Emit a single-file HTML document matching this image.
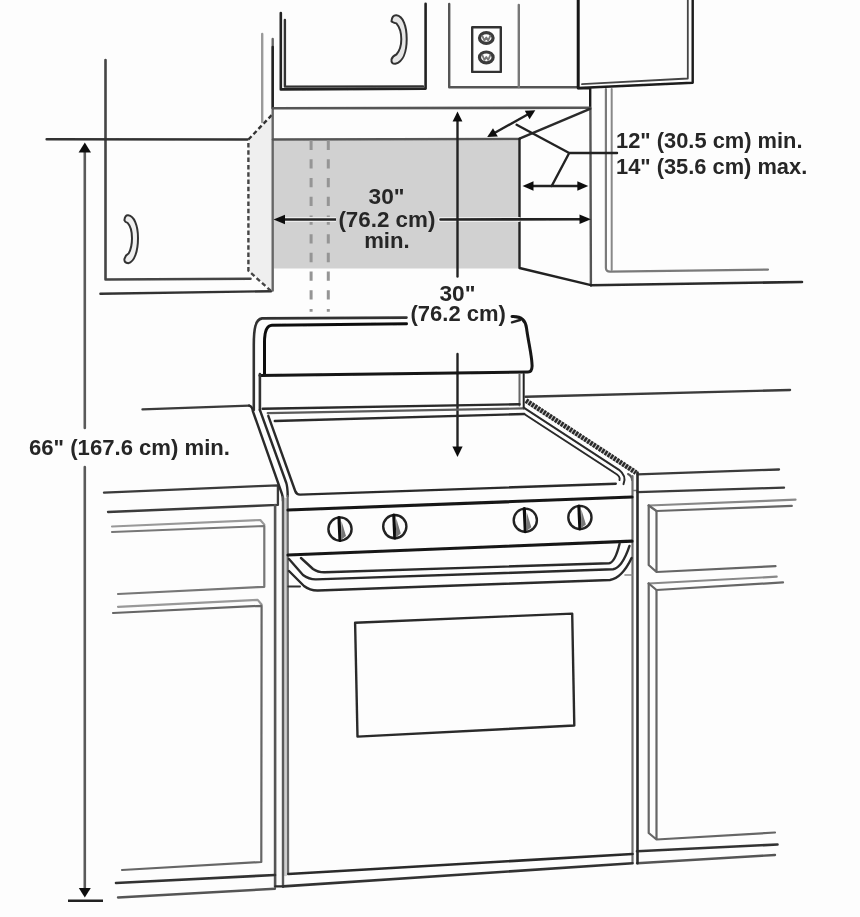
<!DOCTYPE html>
<html><head><meta charset="utf-8">
<style>
html,body{margin:0;padding:0;background:#fdfdfd;}
svg{display:block;}
text{font-family:"Liberation Sans",sans-serif;font-weight:bold;fill:#282828;}
</style></head>
<body>
<svg width="860" height="917" viewBox="0 0 860 917">
<defs><filter id="bl" x="-5%" y="-5%" width="110%" height="110%"><feGaussianBlur stdDeviation="0.6"/></filter></defs>
<g filter="url(#bl)">
<g fill="none" stroke="#2b2b2b" stroke-width="2.4" stroke-linecap="round" stroke-linejoin="round">

<!-- ===== gray clearance region & side panel ===== -->
<rect x="273.5" y="140.5" width="246" height="128" fill="#d1d1d1" stroke="none"/>
<polygon points="248.4,139.5 272.8,114 272.8,290.5 248.4,270.7" fill="#efefef" stroke="none"/>

<!-- left wall cabinet -->
<path d="M105.5,60 L105.5,279.5 L250.5,278.8" stroke="#444" stroke-width="2.6"/>
<path d="M46.6,139.2 L247.5,139.5" stroke="#333"/>
<path d="M100.4,293.8 L271,291.2" stroke="#333"/>
<path d="M248.4,139.5 L272.8,114" stroke="#333" stroke-dasharray="4.5 2.8" stroke-linecap="butt"/>
<path d="M248.4,143 L248.4,270.7 L270.7,290.7" stroke="#444" stroke-dasharray="4.5 2.8" stroke-linecap="butt"/>
<!-- left handle -->
<path d="M124.4,220.2 Q125,215 128.2,215.3 C134,216 138,225 138,238 C138,251 134.5,262 128.2,263.2 Q124,263 124.4,258.9 Q125.5,255 128.7,253.4 C130.5,250 132,245 132,238.2 C132,231 130.5,226 127.6,222.9 Q125,222 124.4,220.2 Z" fill="#efefef" stroke="#333" stroke-width="2"/>

<!-- wall edge lines -->
<path d="M262.2,34 L262.2,122" stroke="#9a9a9a"/>
<path d="M272.7,39 L272.7,290.5" stroke="#666"/>
<path d="M272.7,47 L272.7,108" stroke="#222"/>

<!-- upper middle cabinet -->
<path d="M280.8,13 L280.8,89.4 L425.6,88.6 L425.6,3.8" stroke="#222" stroke-width="2.6"/>
<path d="M284.9,20 L284.9,86.6 L423,86.4" stroke="#333" stroke-width="2.4"/>
<path d="M391.5,21.3 Q392,15 396.4,15.3 C403,16 406.7,26 406.7,39 C406.7,52 403,62 395.3,63.8 Q391,64 391.5,59.4 Q392.5,56 396.4,54.5 C399.5,51 401.3,46 401.3,39.3 C401.3,32 399.5,27 396.4,23.4 Q392,22 391.5,21.3 Z" fill="#e6e6e6" stroke="#333" stroke-width="2"/>

<!-- outlet cabinet -->
<path d="M449.2,4 L449.2,87.2 L578,87.2" stroke="#555"/>
<path d="M518.8,5 L518.8,87" stroke="#777"/>
<rect x="472.2" y="27.2" width="28.6" height="44.7" stroke="#333" stroke-width="2.4"/>
<ellipse cx="486.3" cy="38" rx="6.8" ry="5.4" stroke="#3a3a3a" stroke-width="3.2"/>
<ellipse cx="486.3" cy="57.4" rx="6.8" ry="5.4" stroke="#3a3a3a" stroke-width="3.2"/>
<path d="M482.3,35.8 L484.4,40.5 L486.3,37.5 L488.2,40.5 L490.3,35.8" stroke="#777" stroke-width="1.8"/>
<path d="M482.3,55.2 L484.4,59.9 L486.3,56.9 L488.2,59.9 L490.3,55.2" stroke="#777" stroke-width="1.8"/>

<!-- hood -->
<path d="M578.2,0 L578.2,87.2" stroke="#151515" stroke-width="3"/>
<path d="M692.7,0 L692.7,82.7 L578.2,88" stroke="#1a1a1a" stroke-width="2.4"/>
<path d="M687.8,0 L687.8,78.5 L582,84.2" stroke="#444" stroke-width="1.8"/>

<!-- wall corner right -->
<path d="M578,88.3 L590.2,88.3 L590.2,108.8" stroke="#1e1e1e" stroke-width="2.4"/>
<path d="M590.4,108.8 L590.9,285.2" stroke="#555"/>
<path d="M605.9,89 L605.9,268 Q606,271.6 610,271.6 L768,269.6" stroke="#7a7a7a" stroke-width="2.2"/>
<path d="M611.7,89 L611.7,270" stroke="#888" stroke-width="2"/>
<path d="M590.9,285.2 L802,282" stroke="#2a2a2a" stroke-width="2.6"/>

<!-- ceiling line / gray region outlines -->
<path d="M273,108.2 L590,107.8" stroke="#555" stroke-width="2.6"/>
<path d="M273,139.5 L519.5,139" stroke="#555" stroke-width="2.6"/>
<path d="M519.5,138.6 L590,108.8" stroke="#2a2a2a"/>
<path d="M519.5,139 L519.5,268 L590.9,285.2" stroke="#222"/>
<!-- dashed vent lines -->
<path d="M311.1,140.6 L311.1,311.7 M328.3,140.6 L328.3,311.7" stroke="#959595" stroke-width="3" stroke-dasharray="9.3 9.41" stroke-linecap="butt"/>

<!-- ===== dimension arrows ===== -->
<!-- 66" vertical -->
<path d="M84.8,150 L84.8,428" stroke="#5a5a5a" stroke-width="2.6"/>
<path d="M84.8,467 L84.8,890" stroke="#5a5a5a" stroke-width="2.6"/>
<polygon points="84.8,142.5 78.6,152.5 91,152.5" fill="#111" stroke="none"/>
<polygon points="84.8,897.5 78.8,888 90.8,888" fill="#111" stroke="none"/>
<path d="M68,900.8 L103,900.8" stroke="#222" stroke-width="2.6" stroke-linecap="butt"/>

<!-- 30" horizontal -->
<path d="M282,219.5 L336,219.5 M440.5,219.5 L519,219.4" stroke="#ececec" stroke-width="5"/>
<path d="M280,219.5 L336,219.5 M440.5,219.5 L584,219.3" stroke="#222" stroke-width="2.6"/>
<polygon points="273.5,219.5 285,214.8 285,224.2" fill="#111" stroke="none"/>
<polygon points="591,219.2 579.5,214.5 579.5,223.9" fill="#111" stroke="none"/>

<!-- 30" vertical -->
<path d="M457.5,118 L457.5,276.5" stroke="#222" stroke-width="2.4"/>
<polygon points="457.5,111.4 452.6,121.5 462.4,121.5" fill="#111" stroke="none"/>
<path d="M457.5,354 L457.5,448" stroke="#222" stroke-width="2.4"/>
<polygon points="457.5,457 452.4,446.5 462.6,446.5" fill="#111" stroke="none"/>

<!-- 12/14 arrows -->
<path d="M494,133.2 L528.5,114" stroke="#222" stroke-width="2.4"/>
<polygon points="487.2,137 493,128.2 497.8,136.6" fill="#111" stroke="none"/>
<polygon points="535.3,110.2 524.8,110.8 529.6,119.2" fill="#111" stroke="none"/>
<path d="M516.6,124.7 L569.2,153 L617,153 M569.2,153 L551.7,186" stroke="#222" stroke-width="2.4"/>
<path d="M530,186 L581,186" stroke="#222" stroke-width="2.6"/>
<polygon points="522.5,186 533.5,181.3 533.5,190.7" fill="#111" stroke="none"/>
<polygon points="588.3,186 577.3,181.3 577.3,190.7" fill="#111" stroke="none"/>

<!-- ===== counters & lower cabinets left ===== -->
<path d="M142.5,409.4 L249.2,405.6" stroke="#3a3a3a" stroke-width="2.4"/>
<path d="M104,492.6 L277.9,485.4 L277.9,504.9 L108,512" stroke="#3a3a3a" stroke-width="2.3"/>
<path d="M275.1,505 L275.1,886.5" stroke="#555" stroke-width="2.6"/>
<!-- drawer -->
<path d="M112,526.5 L260.3,520 L264.3,524.6" stroke="#999" stroke-width="2.2"/>
<path d="M112,532 L264.3,526 L264.3,586.8 L118,594" stroke="#777" stroke-width="2.2"/>
<!-- door -->
<path d="M118,606.8 L257.7,599.9 L261.6,604.5" stroke="#999" stroke-width="2.2"/>
<path d="M113,613 L261.6,605.8 L261.3,862 L122,870" stroke="#666" stroke-width="2.2"/>
<path d="M116,883 L275,875" stroke="#333" stroke-width="2.6"/>
<path d="M118,897.5 L275,888.8" stroke="#555" stroke-width="2.4"/>

<!-- ===== counters & lower cabinets right ===== -->
<path d="M525.6,396.7 L790,390" stroke="#3a3a3a" stroke-width="2.4"/>
<path d="M637.5,474.4 L779,469.5" stroke="#3a3a3a" stroke-width="2.3"/>
<path d="M637.5,492.2 L784,487.6" stroke="#3a3a3a" stroke-width="2.3"/>
<path d="M633,490.5 L637.5,490.5" stroke="#777" stroke-width="1.6"/>
<path d="M648.7,505.5 L795.5,499.6" stroke="#888" stroke-width="2.2"/>
<path d="M648.7,505.5 L656.5,511 L791.8,505.9" stroke="#666" stroke-width="2.2"/>
<path d="M648.7,505.5 L648.7,565 L656.5,572 L775.5,566.1 M656.5,511 L656.5,572" stroke="#666" stroke-width="2.2"/>
<path d="M648.7,583.5 L776.7,576.7" stroke="#888" stroke-width="2.2"/>
<path d="M648.7,583.5 L656.5,590 L783,582.4" stroke="#666" stroke-width="2.2"/>
<path d="M648.7,583.5 L648.7,833 L656.5,839.5 L775,832.5 M656.5,590 L656.5,839.5" stroke="#666" stroke-width="2.2"/>
<path d="M637,851.2 L777.5,844.5" stroke="#333" stroke-width="2.6"/>
<path d="M637,863.3 L775,855" stroke="#555" stroke-width="2.4"/>

<!-- ===== stove ===== -->
<!-- backguard -->
<path d="M253.8,410 L253.8,345 C253.8,328 255.5,319.5 262,318.4 L406.5,317.6" stroke="#333" stroke-width="2.6"/>
<path d="M264.5,374.9 L264.5,342 C264.5,331 266.5,325.5 272,325.2 L406.5,323.8" stroke="#111" stroke-width="3"/>
<path d="M512,316.5 C521,316 525.5,319.5 526.5,328 C528.5,343 532,356 532.1,366 Q532,372 528,372.1 L259.9,375.4" stroke="#151515" stroke-width="3"/>
<path d="M512,322.3 L520,320" stroke="#222" stroke-width="2.4"/>
<path d="M259.9,374 L259.9,410" stroke="#333" stroke-width="2.6"/>
<path d="M519.5,374 L519.5,405.6" stroke="#666" stroke-width="2"/>
<path d="M523.7,374 L523.7,408.4" stroke="#222" stroke-width="2"/>
<path d="M262.7,408.8 L519.5,404.2" stroke="#2a2a2a" stroke-width="2.4"/>
<path d="M267.7,413.2 L523.7,408.4" stroke="#5a5a5a" stroke-width="2.2"/>
<path d="M274.8,421 L524.2,414" stroke="#2a2a2a" stroke-width="2.4"/>

<!-- cooktop left diagonals -->
<path d="M249.2,405.6 Q252.4,406.5 252.8,411 L282,494 Q283,497 283,501" stroke="#2a2a2a" stroke-width="2.4"/>
<path d="M259.9,410 L286.3,483 Q287.6,487 287.7,496" stroke="#2a2a2a" stroke-width="2.4"/>
<path d="M268.3,415.8 L295.2,491 Q296.5,494.6 300,494.6 L615.8,483.8" stroke="#2a2a2a" stroke-width="2.4"/>
<!-- cooktop right diagonals -->
<path d="M526,400.6 L636,472.6" stroke="#c8c8c8" stroke-width="4.6" stroke-linecap="butt"/>
<path d="M526,400.6 L636,472.6" stroke="#2a2a2a" stroke-width="5" stroke-dasharray="2.4 1.1" stroke-linecap="butt"/>
<path d="M523.7,407.6 L619,469.8 Q627,476 623.5,484.2" stroke="#2a2a2a" stroke-width="2"/>
<path d="M524.2,414 L614,472.5 Q621,476.5 619.5,480" stroke="#2a2a2a" stroke-width="2"/>
<path d="M628,474 Q632,476 632,480" stroke="#555" stroke-width="2"/>

<!-- stove sides -->
<path d="M285.6,500 L285.6,874" stroke="#cfcfcf" stroke-width="4.5"/>
<path d="M283,497 L283,886.4" stroke="#5a5a5a" stroke-width="2.4"/>
<path d="M287.7,496 L288.1,874" stroke="#6a6a6a" stroke-width="2.2"/>
<path d="M632.5,476 L632.5,863" stroke="#6e6e6e" stroke-width="2.2"/>
<path d="M637.5,472.6 L637.5,863.3" stroke="#2a2a2a" stroke-width="2.6"/>
<path d="M275.5,886.4 L283,886.4" stroke="#2a2a2a"/>

<!-- control panel -->
<path d="M288,510 L632,497" stroke="#151515" stroke-width="3.2"/>
<path d="M288,555 L632,541.2" stroke="#151515" stroke-width="3.2"/>
<!-- knobs -->
<g stroke="#222" stroke-width="2.4">
<circle cx="340" cy="529" r="11.6"/>
<circle cx="394.8" cy="526.6" r="11.6"/>
<circle cx="525.3" cy="520.2" r="11.6"/>
<circle cx="579.9" cy="517.5" r="11.6"/>
</g>
<g stroke="#111" stroke-width="3.2">
<path d="M339,517.5 L340,540.5"/>
<path d="M393.8,515 L394.8,538"/>
<path d="M524.3,508.6 L525.3,531.6"/>
<path d="M578.9,506 L579.9,529"/>
</g>
<g fill="#777" stroke="none">
<polygon points="341.5,521 346,536 341,540"/>
<polygon points="396.3,518.6 400.8,533.6 395.8,537.6"/>
<polygon points="526.8,512.2 531.3,527.2 526.3,531.2"/>
<polygon points="581.4,509.5 585.9,524.5 580.9,528.5"/>
</g>

<!-- door handle -->
<path d="M301,558 L313,569 Q318,572.5 325,572.3 L609,563.3 Q615,562.5 619.6,543.8" stroke="#2a2a2a" stroke-width="2.4"/>
<path d="M289,559 L303,575 Q309,579.5 316,579.4 L613,569.3 Q622,568 629.5,545.9" stroke="#2a2a2a" stroke-width="2.4"/>
<path d="M289,571 L304,586 Q310,590.7 318,590.5 L610,580 Q622,578 631.6,558" stroke="#2a2a2a" stroke-width="2.4"/>
<path d="M288.4,586.5 L300,586.5" stroke="#333" stroke-width="2"/>
<path d="M625,575 L632,575" stroke="#888" stroke-width="1.6"/>

<!-- oven window -->
<path d="M355.1,622.7 L572.2,613.6 L574.3,725.5 L357.5,736.6 Z" stroke="#2a2a2a" stroke-width="2.4"/>

<!-- stove bottom -->
<path d="M288.4,874 L632.5,854" stroke="#2a2a2a" stroke-width="2.6"/>
<path d="M283,886.4 L632.5,863.3" stroke="#333" stroke-width="2.6"/>

</g>

<!-- ===== text ===== -->
<rect x="336" y="180" width="101" height="70" fill="#d1d1d1"/>
<g font-size="22" text-anchor="middle">
<text x="386.6" y="203.5" textLength="36" lengthAdjust="spacingAndGlyphs">30"</text>
<text x="386.9" y="226.5" textLength="97" lengthAdjust="spacingAndGlyphs">(76.2 cm)</text>
<text x="386.9" y="247.5" textLength="45.5" lengthAdjust="spacingAndGlyphs">min.</text>
<text x="457.4" y="300.6" textLength="36" lengthAdjust="spacingAndGlyphs">30"</text>
<text x="458.2" y="320.8" textLength="95.3" lengthAdjust="spacingAndGlyphs">(76.2 cm)</text>
</g>
<g font-size="22">
<text x="616" y="148" textLength="186.5" lengthAdjust="spacingAndGlyphs">12" (30.5 cm) min.</text>
<text x="616" y="173.6" textLength="191.2" lengthAdjust="spacingAndGlyphs">14" (35.6 cm) max.</text>
<text x="29" y="455.2" textLength="201" lengthAdjust="spacingAndGlyphs">66" (167.6 cm) min.</text>
</g>
</g>
</svg>
</body></html>
